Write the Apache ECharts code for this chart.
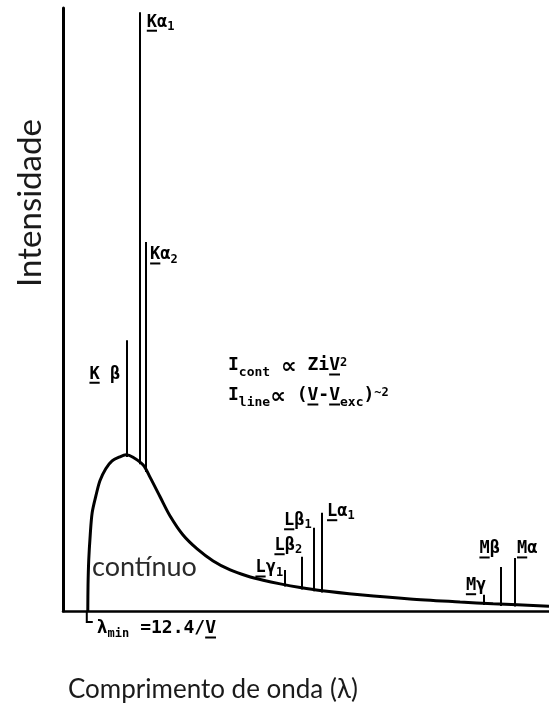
<!DOCTYPE html>
<html>
<head>
<meta charset="utf-8">
<script src="https://cdn.jsdelivr.net/npm/echarts@6/dist/echarts.min.js"></script>
<style>
  html, body { margin: 0; padding: 0; background: #fff; }
  #chart { width: 549px; height: 706px; }
</style>
</head>
<body>
<div id="chart"></div>
<script>
// Continuous X-ray spectrum (arbitrary units): wavelength vs. intensity
const continuumX = [5.1, 5.15, 5.3, 5.6, 6.0, 6.8, 7.6, 8.8, 10.1, 11.5, 13.0, 14.4, 16.5, 17.9, 20.0, 22.0, 24.7, 27.6, 30.9, 34.4, 37.9, 41.2, 44.7, 48.8, 52.9, 61.1, 71.4, 81.7, 88.5, 100];
const continuumY = [0, 4.3, 8.5, 12.6, 16.3, 19.2, 21.6, 23.6, 24.9, 25.5, 25.9, 25.5, 24.2, 22.2, 18.9, 15.8, 12.6, 10.3, 8.3, 6.8, 5.8, 5.1, 4.5, 3.9, 3.4, 2.7, 2.0, 1.5, 1.2, 0.8];

// Characteristic emission lines: position and peak height
const lineNames = ['Kb', 'Ka1', 'Ka2', 'Lg1', 'Lb2', 'Lb1', 'La1', 'Mg', 'Mb', 'Ma'];
const lineX     = [13.2, 15.8, 17.1, 45.7, 49.2, 51.6, 53.3, 86.6, 90.1, 93.0];
const lineTop   = [44.9, 99.3, 61.2, 6.8, 9.0, 13.8, 16.3, 2.7, 7.3, 8.8];
// '_' marks an underlined character
const lineLabels = [
  '{m|_K β}', '{m|_Kα}{s|1}', '{m|_Kα}{s|2}',
  '{m|_Lγ}{s|1}', '{m|_Lβ}{s|2}', '{m|_Lβ}{s|1}', '{m|_Lα}{s|1}',
  '{m|_Mγ}', '{m|_Mβ}', '{m|_Mα}'
];

// Text
const xTitle = 'Comprimento de onda (λ)';
const yTitle = 'Intensidade';
const continuumLabel = 'contínuo';
const formulaCont = '{m|I}{s|cont}{m| }{a|∝}{m| Zi_V}{p|2}';
const formulaLine = '{m|I}{s|line}{a|∝}{m| (_V-_V}{s|exc}{m|)}{p|~2}';
const lambdaMinLabel = '{m|λ}{s|min}{m| =12.4/_V}';

// Label placement relative to each line's top: dx to the label edge, dy to its baseline (pixels)
const placement = {
  Kb:  { dx: -7,  dy: 40,  align: 'right' },
  Ka1: { dx: 7,   dy: 16,  align: 'left' },
  Ka2: { dx: 4,   dy: 19,  align: 'left' },
  Lg1: { dx: -2,  dy: 4,   align: 'right' },
  Lb2: { dx: 0,   dy: -5,  align: 'right' },
  Lb1: { dx: -2,  dy: -1,  align: 'right' },
  La1: { dx: 5,   dy: 5,   align: 'left' },
  Mg:  { dx: -18, dy: -3,  align: 'left' },
  Mb:  { dx: -1,  dy: -12, align: 'right' },
  Ma:  { dx: 2,   dy: -3,  align: 'left' }
};

const MONO = '"DejaVu Sans Mono"';
const SANS = 'Lato';

function richSet(size, subSize, supSize, propSize) {
  return {
    m: { fontFamily: MONO, fontWeight: 'bold', fontSize: size, fill: '#000', padding: [0, 0, 2, 0], verticalAlign: 'top' },
    a: { fontFamily: '"DejaVu Sans"', fontWeight: 'bold', fontSize: propSize || size, fill: '#000', verticalAlign: 'bottom' },
    s: { fontFamily: MONO, fontWeight: 'bold', fontSize: subSize, fill: '#000', verticalAlign: 'bottom' },
    p: { fontFamily: MONO, fontWeight: 'bold', fontSize: supSize, fill: '#000', verticalAlign: 'top' }
  };
}

const measureCtx = document.createElement('canvas').getContext('2d');
function fontOf(st) { return 'bold ' + st.fontSize + 'px ' + st.fontFamily; }

// Rich text placed by its baseline, with underlines under '_'-marked characters
function richLabel(spec, rich, x, baseline, align) {
  const tokens = [];
  spec.replace(/\{(\w+)\|([^}]*)\}/g, (all, s, t) => { tokens.push([s, t]); return ''; });
  let cursor = 0, text = '';
  const marks = [];
  tokens.forEach(([s, t]) => {
    const st = rich[s];
    measureCtx.font = fontOf(st);
    let clean = '';
    for (let i = 0; i < t.length; i++) {
      if (t[i] === '_' && i + 1 < t.length) {
        const before = measureCtx.measureText(clean).width;
        const w = measureCtx.measureText(t[i + 1]).width;
        marks.push([cursor + before, w]);
        clean += t[i + 1];
        i++;
      } else {
        clean += t[i];
      }
    }
    cursor += measureCtx.measureText(clean).width;
    text += '{' + s + '|' + clean + '}';
  });
  const size = rich.m.fontSize;
  const left = align === 'right' ? x - cursor : x;
  const top = baseline - 0.85 * size;
  const els = [{
    type: 'text', x: left, y: top, z: 10,
    style: { text: text, rich: rich, align: 'left', verticalAlign: 'top',
             fontFamily: MONO, fontWeight: 'bold', fontSize: size, fill: '#000' }
  }];
  marks.forEach(([ux, uw]) => {
    els.push({ type: 'rect', z: 10, shape: { x: left + ux, y: baseline + 1.5, width: uw, height: 2 },
               style: { fill: '#000' } });
  });
  return els;
}

// Continuum value at wavelength x (foot of each emission line)
function continuumAt(x) {
  for (let i = 1; i < continuumX.length; i++) {
    if (x <= continuumX[i]) {
      const x0 = continuumX[i - 1], x1 = continuumX[i];
      const t = x1 === x0 ? 1 : (x - x0) / (x1 - x0);
      return continuumY[i - 1] + t * (continuumY[i] - continuumY[i - 1]);
    }
  }
  return continuumY[continuumY.length - 1];
}

const chart = echarts.init(document.getElementById('chart'), null, { renderer: 'canvas' });

const axisCommon = {
  type: 'value', min: 0, max: 100,
  axisLine: { show: true, lineStyle: { color: '#000', width: 2.5 } },
  axisTick: { show: false }, axisLabel: { show: false }, splitLine: { show: false }
};

chart.setOption({
  animation: false,
  backgroundColor: '#fff',
  grid: { left: 63, right: 0, top: 8, bottom: 95 },
  xAxis: Object.assign({}, axisCommon),
  yAxis: Object.assign({}, axisCommon, { axisLine: { show: true, lineStyle: { color: '#000', width: 3 } } }),
  series: [
    {
      type: 'line',
      data: continuumX.map((x, i) => [x, continuumY[i]]),
      smooth: 0.3,
      symbol: 'none',
      lineStyle: { color: '#000', width: 3 },
      z: 3
    },
    {
      type: 'lines',
      coordinateSystem: 'cartesian2d',
      data: lineX.map((x, i) => ({ coords: [[x, continuumAt(x) - 0.3], [x, lineTop[i]]] })),
      lineStyle: { color: '#000', width: 2, opacity: 1 },
      z: 2
    }
  ]
});

let graphics = [];
const labelRich = richSet(17, 12, 12);
lineNames.forEach((name, i) => {
  const p = chart.convertToPixel({ gridIndex: 0 }, [lineX[i], lineTop[i]]);
  const pl = placement[name];
  graphics = graphics.concat(richLabel(lineLabels[i], labelRich, p[0] + pl.dx, p[1] + pl.dy, pl.align));
});

// λmin marker below the axis
const pMin = chart.convertToPixel({ gridIndex: 0 }, [continuumX[0], 0]);
graphics.push({
  type: 'polyline', z: 10,
  shape: { points: [[pMin[0] - 1, pMin[1]], [pMin[0] - 1, pMin[1] + 11], [pMin[0] + 5, pMin[1] + 11]] },
  style: { stroke: '#000', lineWidth: 2, fill: null }
});
graphics = graphics.concat(richLabel(lambdaMinLabel, richSet(18, 12, 12), pMin[0] + 9, pMin[1] + 24, 'left'));

// Proportionality relations
const formulaRich = richSet(18, 13, 12, 22);
graphics = graphics.concat(richLabel(formulaCont, formulaRich, 228, 372, 'left'));
graphics = graphics.concat(richLabel(formulaLine, formulaRich, 228, 402, 'left'));

// Region label and axis titles
graphics.push({
  type: 'text', x: 92, y: 567, z: 10,
  style: { text: continuumLabel, fontFamily: SANS, fontSize: 27, fill: '#2a2a2a', align: 'left', verticalAlign: 'middle' }
});
graphics.push({
  type: 'text', x: 68, y: 690, z: 10,
  style: { text: xTitle, fontFamily: SANS, fontSize: 26, fill: '#1a1a1a', align: 'left', verticalAlign: 'middle' }
});
graphics.push({
  type: 'text', x: 30, y: 203, rotation: Math.PI / 2, z: 10,
  style: { text: yTitle, fontFamily: SANS, fontSize: 33, fill: '#1a1a1a', align: 'center', verticalAlign: 'middle' }
});

chart.setOption({ graphic: graphics });
</script>
</body>
</html>
